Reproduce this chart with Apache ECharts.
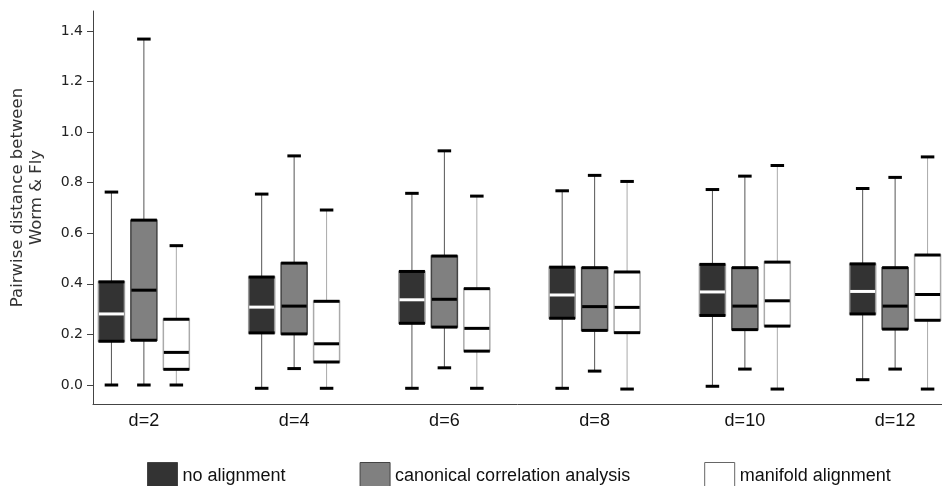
<!DOCTYPE html>
<html><head><meta charset="utf-8">
<script src="https://cdn.jsdelivr.net/npm/echarts@6/dist/echarts.min.js"></script>
<style>html,body{margin:0;padding:0;background:#fff}#c{width:942px;height:486px}</style>
</head><body><div id="c"></div>
<script>
const categories = ['d=2', 'd=4', 'd=6', 'd=8', 'd=10', 'd=12'];
const seriesNames = ['no alignment', 'canonical correlation analysis', 'manifold alignment'];
// each box: [min, Q1, median, Q3, max]
const noAlignment = [
  [0.000, 0.173, 0.281, 0.408, 0.763],
  [-0.013, 0.206, 0.308, 0.427, 0.755],
  [-0.013, 0.244, 0.337, 0.449, 0.758],
  [-0.013, 0.264, 0.356, 0.466, 0.768],
  [-0.005, 0.275, 0.368, 0.477, 0.773],
  [0.021, 0.281, 0.370, 0.479, 0.777]
];
const canonicalCorrelation = [
  [0.000, 0.177, 0.375, 0.652, 1.368],
  [0.065, 0.202, 0.312, 0.482, 0.906],
  [0.068, 0.229, 0.339, 0.510, 0.926],
  [0.055, 0.216, 0.310, 0.464, 0.829],
  [0.063, 0.219, 0.312, 0.464, 0.826],
  [0.063, 0.221, 0.312, 0.464, 0.821]
];
const manifoldAlignment = [
  [0.000, 0.062, 0.129, 0.260, 0.551],
  [-0.013, 0.091, 0.163, 0.331, 0.692],
  [-0.013, 0.134, 0.224, 0.381, 0.747],
  [-0.016, 0.207, 0.307, 0.447, 0.805],
  [-0.016, 0.233, 0.333, 0.486, 0.868],
  [-0.016, 0.256, 0.358, 0.514, 0.902]
];
const yTicks = [0.0, 0.2, 0.4, 0.6, 0.8, 1.0, 1.2, 1.4];
const xTicks = [0, 1, 2, 3, 4, 5];

const allData = [noAlignment, canonicalCorrelation, manifoldAlignment];
const styles = [
  { fill: '#333333', median: '#ffffff', whisker: '#555555', side: '#999999', offset: -0.216 },
  { fill: '#808080', median: '#000000', whisker: '#555555', side: '#444444', offset: 0 },
  { fill: '#ffffff', median: '#000000', whisker: '#aaaaaa', side: '#aaaaaa', offset: 0.216 }
];
const boxFrac = 0.173, capFrac = 0.09;

function makeRender(k) {
  const st = styles[k];
  return function (params, api) {
    const x = api.value(0);
    const band = api.size([1, 0])[0];
    const pMin = api.coord([x, api.value(1)]);
    const pQ1 = api.coord([x, api.value(2)]);
    const pMed = api.coord([x, api.value(3)]);
    const pQ3 = api.coord([x, api.value(4)]);
    const pMax = api.coord([x, api.value(5)]);
    const cx = pMin[0] + st.offset * band;
    const bw = boxFrac * band, cw = capFrac * band;
    const L = cx - bw / 2, R = cx + bw / 2;
    const line = (x1, y1, x2, y2, stroke, w) => ({ type: 'line', shape: { x1, y1, x2, y2 }, style: { stroke, lineWidth: w } });
    return {
      type: 'group',
      children: [
        line(cx, pMax[1], cx, pQ3[1], st.whisker, 1),
        line(cx, pQ1[1], cx, pMin[1], st.whisker, 1),
        line(cx - cw / 2, pMax[1], cx + cw / 2, pMax[1], '#000', 3),
        line(cx - cw / 2, pMin[1], cx + cw / 2, pMin[1], '#000', 3),
        { type: 'rect', shape: { x: L, y: pQ3[1], width: bw, height: pQ1[1] - pQ3[1] }, style: { fill: st.fill, stroke: st.side, lineWidth: 1.5 } },
        line(L, pQ3[1], R, pQ3[1], '#000', 3),
        line(L, pQ1[1], R, pQ1[1], '#000', 3),
        line(L + 0.5, pMed[1], R - 0.5, pMed[1], st.median, 3)
      ]
    };
  };
}

const chart = echarts.init(document.getElementById('c'), null, { renderer: 'canvas' });
chart.setOption({
  animation: false,
  backgroundColor: '#ffffff',
  grid: { left: 91, right: 0, top: 11, bottom: 82 },
  legend: {
    left: 142, top: 457, itemWidth: 30, itemHeight: 28, itemGap: 74, icon: 'rect',
    textStyle: { fontSize: 18, fontFamily: 'Liberation Sans', color: '#111' },
    data: seriesNames.map((n, k) => ({ name: n, itemStyle: { color: styles[k].fill, borderColor: k === 2 ? '#666' : '#444', borderWidth: 1 } }))
  },
  xAxis: {
    type: 'value', min: -0.3387, max: 5.312,
    splitLine: { show: false },
    axisLine: { show: true, onZero: false, lineStyle: { color: '#444', width: 1 } },
    axisTick: { show: false },
    axisLabel: {
      customValues: xTicks, margin: 8,
      formatter: v => categories[Math.round(v)] || '',
      fontSize: 18, fontFamily: 'Liberation Sans', color: '#111'
    }
  },
  yAxis: {
    type: 'value', min: -0.0751, max: 1.479,
    name: 'Pairwise distance between\nWorm & Fly', nameLocation: 'middle', nameGap: 47, nameRotate: 90,
    nameTextStyle: { fontSize: 16.5, fontFamily: 'DejaVu Sans', color: '#333', lineHeight: 19, padding: [0, 0, 0, 20] },
    splitLine: { show: false },
    axisLine: { show: true, onZero: false, lineStyle: { color: '#444', width: 1 } },
    axisTick: { show: true, customValues: yTicks, length: 6, lineStyle: { color: '#444' } },
    axisLabel: {
      customValues: yTicks, margin: 10,
      formatter: v => v.toFixed(1),
      fontSize: 14, fontFamily: 'DejaVu Sans', color: '#222'
    }
  },
  series: allData.map((arr, k) => ({
    type: 'custom', name: seriesNames[k],
    itemStyle: { color: styles[k].fill },
    encode: { x: 0, y: [1, 2, 3, 4, 5] },
    renderItem: makeRender(k),
    data: arr.map((d, i) => [i].concat(d))
  }))
});
</script></body></html>
